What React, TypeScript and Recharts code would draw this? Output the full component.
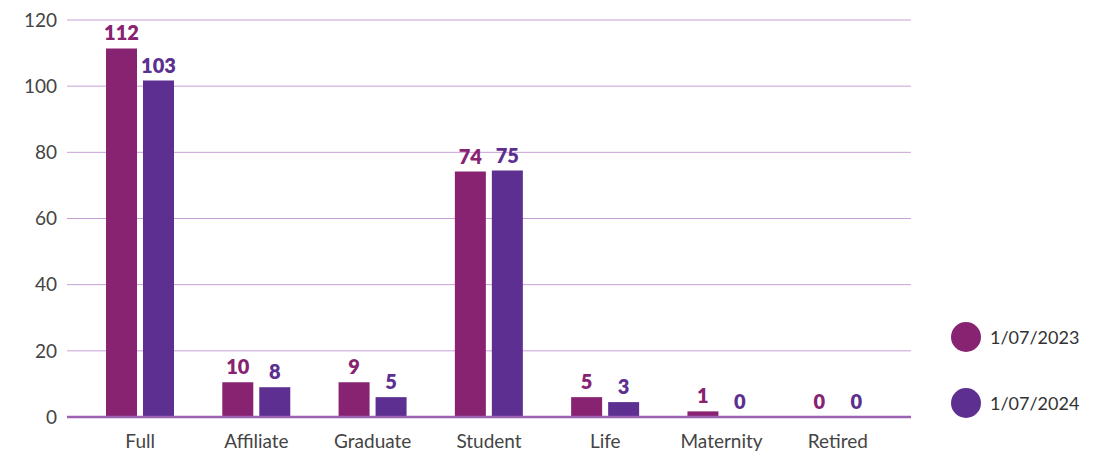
import React from 'react'
import { BarChart, Bar, XAxis, YAxis, CartesianGrid, LabelList } from 'recharts'

const categories = ['Full', 'Affiliate', 'Graduate', 'Student', 'Life', 'Maternity', 'Retired']
// bar heights as drawn in the picture
const bars2023 = [111.4, 10.5, 10.5, 74.2, 6, 1.7, 0]
const bars2024 = [101.7, 9, 6, 74.5, 4.5, 0, 0]
// printed value labels
const labels2023 = ['112', '10', '9', '74', '5', '1', '0']
const labels2024 = ['103', '8', '5', '75', '3', '0', '0']
const yTicks = [0, 20, 40, 60, 80, 100, 120]

const seriesNames = ['1/07/2023', '1/07/2024']
const c2023 = '#872371'
const c2024 = '#5c2f90'

const data = categories.map((name, i) => ({
  name,
  y2023: bars2023[i],
  y2024: bars2024[i],
  l2023: labels2023[i],
  l2024: labels2024[i],
}))

const font = 'Lato, "Open Sans", sans-serif'

const LegendBox = () => (
  <div style={{ position: 'absolute', left: 943, top: 314, fontFamily: font }}>
    {seriesNames.map((s, i) => (
      <div key={s} style={{ display: 'flex', alignItems: 'center', height: 30, marginBottom: 36 }}>
        <span
          style={{
            width: 30,
            height: 30,
            borderRadius: 15,
            background: i === 0 ? c2023 : c2024,
            display: 'inline-block',
            marginRight: 9,
          }}
        />
        <span style={{ fontSize: 18, color: '#333' }}>{s}</span>
      </div>
    ))}
  </div>
)

export default function App() {
  return (
    <div style={{ position: 'relative', width: 1088, height: 446 }}>
      <BarChart
        width={1088}
        height={446}
        data={data}
        margin={{ top: 12, right: 185, left: 0, bottom: 0 }}
        barSize={31}
        barGap={6}
        style={{ fontFamily: font }}
      >
        <CartesianGrid vertical={false} stroke="#c7a0d6" strokeWidth={1} />
        <XAxis
          dataKey="name"
          padding={{ left: 15, right: 15 }}
          tickLine={false}
          axisLine={{ stroke: '#9b62b2', strokeWidth: 2.5 }}
          tick={{ fill: '#444', fontSize: 19 }}
          tickMargin={12}
          height={37}
        />
        <YAxis
          width={59}
          domain={[0, 120]}
          ticks={yTicks}
          axisLine={false}
          tickLine={false}
          tickMargin={4}
          tick={{ fill: '#444', fontSize: 19 }}
        />
        <Bar dataKey="y2023" name={seriesNames[0]} fill={c2023} minPointSize={0.5} isAnimationActive={false}>
          <LabelList dataKey="l2023" position="top" offset={8} fill={c2023} fontSize={20} fontWeight={800} />
        </Bar>
        <Bar dataKey="y2024" name={seriesNames[1]} fill={c2024} minPointSize={0.5} isAnimationActive={false}>
          <LabelList dataKey="l2024" position="top" offset={8} fill={c2024} fontSize={20} fontWeight={800} />
        </Bar>
      </BarChart>
      <LegendBox />
    </div>
  )
}
